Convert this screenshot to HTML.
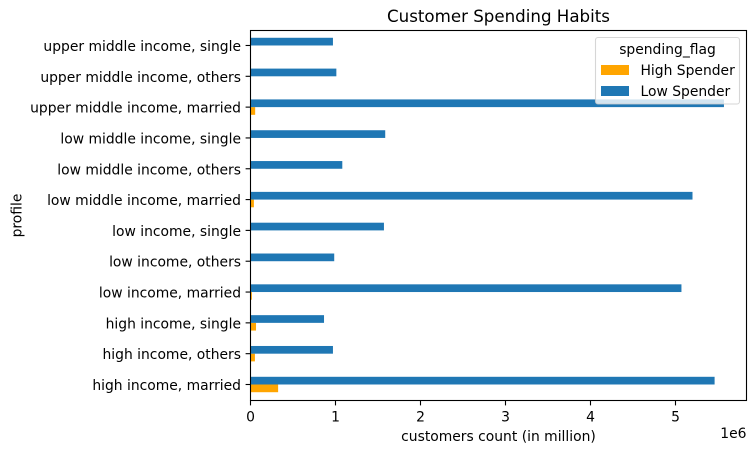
<!DOCTYPE html>
<html>
<head>
<meta charset="utf-8">
<title>Customer Spending Habits</title>
<style>
html,body{margin:0;padding:0;background:#fff;width:756px;height:453px;overflow:hidden}
svg{display:block}
text{font-family:"DejaVu Sans","Liberation Sans",sans-serif;font-size:13.89px;fill:#000}
</style>
</head>
<body>
<svg id="chart" width="756" height="453" viewBox="0 0 756 453" xmlns="http://www.w3.org/2000/svg">
  <text x="498.5" y="22" text-anchor="middle" style="font-size:16.67px">Customer Spending Habits</text>
  <g id="bars"></g>
  <g id="y-ticks"></g>
  <g id="x-ticks"></g>
  <rect x="250.5" y="30.5" width="496" height="370" fill="none" stroke="#000" stroke-width="1.1"/>
  <text x="498.5" y="441" text-anchor="middle">customers count (in million)</text>
  <text transform="translate(21.5,215.5) rotate(-90)" text-anchor="middle">profile</text>
  <text x="746.5" y="438" text-anchor="end">1e6</text>
  <g>
    <rect x="595.5" y="37.5" width="144" height="66.5" rx="2.5" fill="#fff" fill-opacity="0.8" stroke="#ccc" stroke-opacity="0.8" stroke-width="1.1"/>
    <text x="667.5" y="54" text-anchor="middle">spending_flag</text>
    <rect x="601" y="65" width="28" height="10" fill="#ffa500"/>
    <text x="640.5" y="75">High Spender</text>
    <rect x="601" y="86" width="28" height="10" fill="#1f77b4"/>
    <text x="640.5" y="96">Low Spender</text>
  </g>
</svg>
<script>
const categories = [
  "high income, married", "high income, others", "high income, single",
  "low income, married", "low income, others", "low income, single",
  "low middle income, married", "low middle income, others", "low middle income, single",
  "upper middle income, married", "upper middle income, others", "upper middle income, single"
];
const highSpender = [325000, 52000, 65000, 16000, 4000, 5000, 40000, 5000, 6000, 55000, 5000, 4000];
const lowSpender = [5460000, 970000, 865000, 5070000, 985000, 1570000, 5200000, 1080000, 1585000, 5570000, 1010000, 970000];
const xTickValues = [0, 1, 2, 3, 4, 5];

const NS = "http://www.w3.org/2000/svg";
const X0 = 250.5, PX_PER_UNIT = 85e-6;
const Y0 = 384.5, STEP = 30.82, BAR_H = STEP / 4;
function xScale(v) { return X0 + v * PX_PER_UNIT; }
function yScale(i) { return Y0 - i * STEP; }
function make(tag, attrs, parent) {
  const el = document.createElementNS(NS, tag);
  for (const k in attrs) el.setAttribute(k, attrs[k]);
  parent.appendChild(el);
  return el;
}
const barsG = document.getElementById("bars");
const yG = document.getElementById("y-ticks");
const xG = document.getElementById("x-ticks");

categories.forEach(function (cat, i) {
  const y = yScale(i);
  const hi = make("rect", {x: X0, y: y, width: xScale(highSpender[i]) - X0, height: BAR_H, fill: "#ffa500"}, barsG);
  
  
  const lo = make("rect", {x: X0, y: y - BAR_H, width: xScale(lowSpender[i]) - X0, height: BAR_H, fill: "#1f77b4"}, barsG);
  
  
  const tick = make("line", {x1: X0 - 4.9, x2: X0, y1: y, y2: y, stroke: "#000", "stroke-width": 1.1}, yG);
  
  
  const label = make("text", {x: 241, y: y + 5.5, "text-anchor": "end"}, yG);
  
  
  label.textContent = cat;
});
xTickValues.forEach(function (t) {
  const x = xScale(t * 1e6);
  const tick = make("line", {x1: x, x2: x, y1: 400.5, y2: 405.4, stroke: "#000", "stroke-width": 1.1}, xG);
  
  
  const label = make("text", {x: x, y: 421.5, "text-anchor": "middle"}, xG);
  
  
  label.textContent = String(t);
});
</script>
</body>
</html>
